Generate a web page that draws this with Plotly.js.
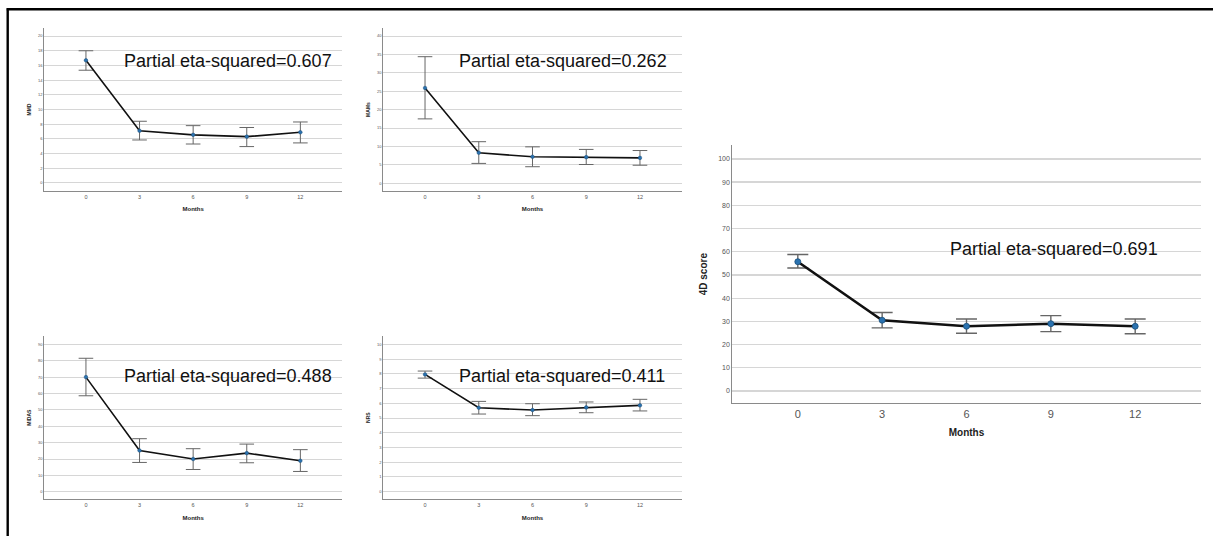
<!DOCTYPE html>
<html><head><meta charset="utf-8">
<script src="https://cdn.plot.ly/plotly-3.0.1.min.js"></script>
<style>html,body{margin:0;padding:0;background:#fff;overflow:hidden}#chart{width:1213px;height:536px}</style>
</head><body><div id="chart"></div><script>
// ---- data ----
const months = [0, 3, 6, 9, 12];
const monthLabels = ['0', '3', '6', '9', '12'];

const mmdMean  = [16.7, 7.1, 6.55, 6.3, 6.9];
const mmdUpper = [18.0, 8.4, 7.8, 7.55, 8.3];
const mmdLower = [15.35, 5.85, 5.3, 4.95, 5.45];

const mamsMean  = [25.9, 8.3, 7.2, 7.1, 6.9];
const mamsUpper = [34.4, 11.3, 9.9, 9.2, 8.9];
const mamsLower = [17.5, 5.4, 4.5, 5.1, 4.9];

const midasMean  = [70.0, 25.2, 20.0, 23.6, 18.9];
const midasUpper = [81.5, 32.4, 26.3, 29.1, 25.7];
const midasLower = [58.6, 17.9, 13.6, 17.7, 12.4];

const nrsMean  = [7.96, 5.70, 5.54, 5.72, 5.86];
const nrsUpper = [8.19, 6.13, 5.97, 6.09, 6.27];
const nrsLower = [7.71, 5.27, 5.16, 5.36, 5.48];

const fourDMean  = [55.7, 30.5, 27.9, 29.0, 27.9];
const fourDUpper = [58.8, 33.8, 31.0, 32.5, 31.0];
const fourDLower = [53.0, 27.2, 24.9, 25.6, 24.7];

const yTitles = ['MMD', 'MAMs', 'MIDAS', 'NRS', '4D score'];
const etaLabels = ['Partial eta-squared=0.607', 'Partial eta-squared=0.262',
                   'Partial eta-squared=0.488', 'Partial eta-squared=0.411',
                   'Partial eta-squared=0.691'];

// ---- helpers ----
const F = 'Liberation Sans, Arial, sans-serif';
const W = 1213, H = 536;

function trace(mean, upper, lower, idx, big) {
  const s = idx === 1 ? '' : String(idx);
  return {
    type: 'scatter', mode: 'lines+markers', x: months, y: mean,
    xaxis: 'x' + s, yaxis: 'y' + s, showlegend: false, hoverinfo: 'skip',
    line: {color: '#111', width: big ? 2.6 : 1.6},
    marker: {color: '#2a72b0', size: big ? 6 : 3.6, line: {color: '#1a4f7a', width: big ? 0.8 : 0.5}},
    error_y: {type: 'data', symmetric: false,
      array: upper.map((u, i) => u - mean[i]),
      arrayminus: lower.map((l, i) => mean[i] - l),
      color: '#666', thickness: big ? 1.4 : 1, width: big ? 10.5 : 7.3}
  };
}

function xAx(px0, px1, anchor, big) {
  return {domain: [px0 / W, px1 / W], anchor: anchor, range: [-2.33, 14.33],
    tickmode: 'array', tickvals: months, ticktext: monthLabels,
    showgrid: false, zeroline: false, showline: true, linecolor: '#8a8a8a', linewidth: 1,
    ticks: '', tickfont: {family: F, size: big ? 11 : 5.5, color: '#555'},
    title: {text: 'Months', font: {family: F, size: big ? 10 : 6, color: '#222', weight: 'bold'},
      standoff: big ? 10 : 8},
    fixedrange: true};
}

function yAx(py0, py1, anchor, range, dtick, title, big) {
  return {domain: [1 - py1 / H, 1 - py0 / H], anchor: anchor, range: range,
    tick0: 0, dtick: dtick, showgrid: true, gridcolor: '#d6d6d6', gridwidth: big ? 1.3 : 1,
    zeroline: false, showline: true, linecolor: '#8a8a8a', linewidth: 1,
    ticks: '', tickfont: {family: F, size: big ? 7 : 4, color: '#555'},
    title: {text: title, font: {family: F, size: big ? 10 : 5, color: '#222', weight: 'bold'},
      standoff: big ? 8 : 6},
    fixedrange: true};
}

const data = [
  trace(mmdMean, mmdUpper, mmdLower, 1, false),
  trace(mamsMean, mamsUpper, mamsLower, 2, false),
  trace(midasMean, midasUpper, midasLower, 3, false),
  trace(nrsMean, nrsUpper, nrsLower, 4, false),
  trace(fourDMean, fourDUpper, fourDLower, 5, true)
];

function eta(text, pxLeft, pyMid) {
  return {text: text, xref: 'paper', yref: 'paper', x: pxLeft / W, y: 1 - pyMid / H,
    xanchor: 'left', yanchor: 'middle', showarrow: false,
    font: {family: F, size: 18, color: '#111'}};
}

const layout = {
  width: W, height: H, margin: {l: 0, r: 0, t: 0, b: 0},
  paper_bgcolor: '#fff', plot_bgcolor: '#fff', showlegend: false,
  xaxis:  xAx(44.3, 342, 'y', false),
  yaxis:  yAx(28, 191, 'x', [-1.1, 21.1], 2, yTitles[0], false),
  xaxis2: xAx(383.3, 681.7, 'y2', false),
  yaxis2: yAx(28, 191, 'x2', [-2.1, 42.2], 5, yTitles[1], false),
  xaxis3: xAx(44.3, 342, 'y3', false),
  yaxis3: yAx(336, 499.3, 'x3', [-4.6, 95.1], 10, yTitles[2], false),
  xaxis4: xAx(383.3, 681.7, 'y4', false),
  yaxis4: yAx(336, 499.3, 'x4', [-0.52, 10.57], 1, yTitles[3], false),
  xaxis5: xAx(732.3, 1200.7, 'y5', true),
  yaxis5: yAx(145, 403.3, 'x5', [-5.3, 106.0], 10, yTitles[4], true),
  annotations: [
    eta(etaLabels[0], 122, 60.5),
    eta(etaLabels[1], 457, 60.5),
    eta(etaLabels[2], 122, 376),
    eta(etaLabels[3], 457, 375.5),
    eta(etaLabels[4], 947.5, 249)
  ],
  shapes: [
    {type: 'line', xref: 'paper', yref: 'paper', x0: 6.7 / W, x1: 1, y0: 1 - 9.3 / H, y1: 1 - 9.3 / H,
     line: {color: '#000', width: 2.4}},
    {type: 'line', xref: 'paper', yref: 'paper', x0: 7.7 / W, x1: 7.7 / W, y0: 1 - 8.2 / H, y1: 0,
     line: {color: '#000', width: 2.4}}
  ]
};

Plotly.newPlot('chart', data, layout, {displayModeBar: false, staticPlot: true});
</script></body></html>
